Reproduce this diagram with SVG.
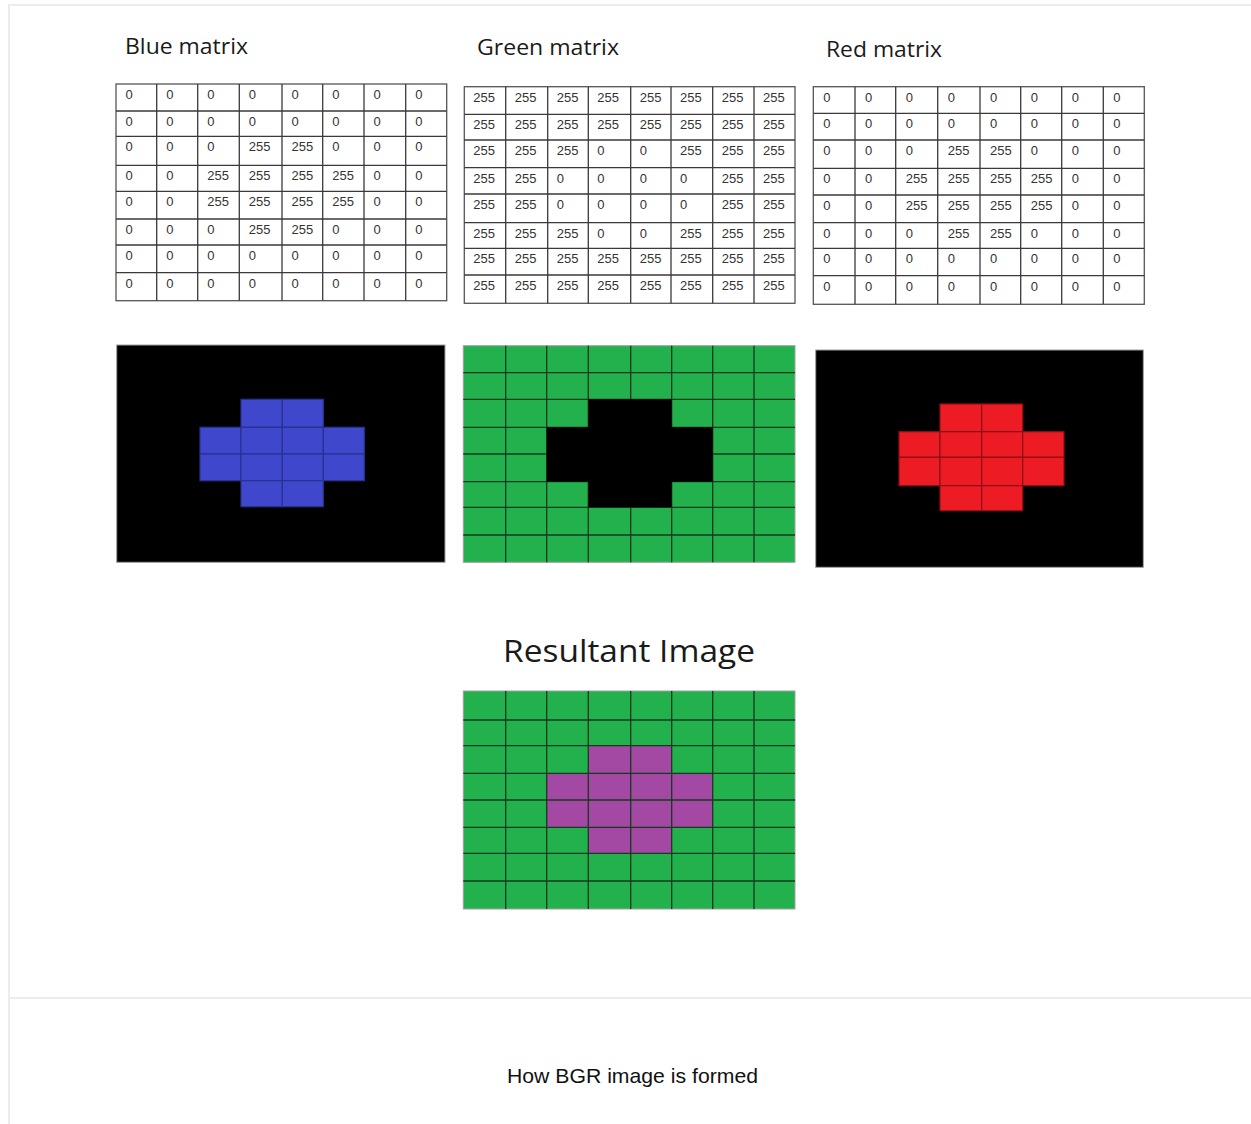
<svg xmlns="http://www.w3.org/2000/svg" width="1251" height="1124" viewBox="0 0 1251 1124">
<style>
.frame{stroke:#ececec;stroke-width:2;fill:none}
.title{font-family:"Open Sans","Liberation Sans",sans-serif;font-size:22px;fill:#1a1a1a}
.big{font-family:"Open Sans","Liberation Sans",sans-serif;font-size:31px;fill:#1a1a1a}
.num{font-family:"Liberation Sans",Arial,sans-serif;font-size:13px;fill:#333}
.grid{stroke:#3a3a3a;stroke-width:1.3;fill:none}
.outer{fill:#fff;stroke:#555;stroke-width:1.3}
.imgb{stroke:#a0a0a0;stroke-width:1}
.bc{fill:#3f48cc;stroke:#2a3190;stroke-width:1.2}
.rc{fill:#ed1c24;stroke:#8e1016;stroke-width:1.2}
.gl{stroke:#163a1e;stroke-width:1.3;fill:none}
.cap{font-family:"Liberation Sans",Arial,sans-serif;font-size:21px;fill:#111}
</style>
<rect width="1251" height="1124" fill="#fff"/>
<g id="frame">
<line class="frame" x1="8" y1="5" x2="1251" y2="5"/>
<line class="frame" x1="9" y1="4" x2="9" y2="1124"/>
<line class="frame" x1="9" y1="998" x2="1251" y2="998"/>
</g>

<g id="blue-matrix">
<text class="title" x="125" y="54" textLength="123" lengthAdjust="spacingAndGlyphs">Blue matrix</text>
<rect class="outer" x="116" y="84" width="330.7" height="216.7"/>
<path class="grid" d="M156.7 84V300.7M197.7 84V300.7M239.3 84V300.7M282 84V300.7M322.7 84V300.7M364 84V300.7M405.7 84V300.7M116 111H446.7M116 136.3H446.7M116 165.3H446.7M116 191.3H446.7M116 219H446.7M116 245H446.7M116 272.7H446.7"/>
<g class="num">
<text y="99"><tspan x="125.5">0</tspan><tspan x="166.2">0</tspan><tspan x="207.2">0</tspan><tspan x="248.8">0</tspan><tspan x="291.5">0</tspan><tspan x="332.2">0</tspan><tspan x="373.5">0</tspan><tspan x="415.2">0</tspan></text>
<text y="126"><tspan x="125.5">0</tspan><tspan x="166.2">0</tspan><tspan x="207.2">0</tspan><tspan x="248.8">0</tspan><tspan x="291.5">0</tspan><tspan x="332.2">0</tspan><tspan x="373.5">0</tspan><tspan x="415.2">0</tspan></text>
<text y="151.3"><tspan x="125.5">0</tspan><tspan x="166.2">0</tspan><tspan x="207.2">0</tspan><tspan x="248.8">255</tspan><tspan x="291.5">255</tspan><tspan x="332.2">0</tspan><tspan x="373.5">0</tspan><tspan x="415.2">0</tspan></text>
<text y="180.3"><tspan x="125.5">0</tspan><tspan x="166.2">0</tspan><tspan x="207.2">255</tspan><tspan x="248.8">255</tspan><tspan x="291.5">255</tspan><tspan x="332.2">255</tspan><tspan x="373.5">0</tspan><tspan x="415.2">0</tspan></text>
<text y="206.3"><tspan x="125.5">0</tspan><tspan x="166.2">0</tspan><tspan x="207.2">255</tspan><tspan x="248.8">255</tspan><tspan x="291.5">255</tspan><tspan x="332.2">255</tspan><tspan x="373.5">0</tspan><tspan x="415.2">0</tspan></text>
<text y="234"><tspan x="125.5">0</tspan><tspan x="166.2">0</tspan><tspan x="207.2">0</tspan><tspan x="248.8">255</tspan><tspan x="291.5">255</tspan><tspan x="332.2">0</tspan><tspan x="373.5">0</tspan><tspan x="415.2">0</tspan></text>
<text y="260"><tspan x="125.5">0</tspan><tspan x="166.2">0</tspan><tspan x="207.2">0</tspan><tspan x="248.8">0</tspan><tspan x="291.5">0</tspan><tspan x="332.2">0</tspan><tspan x="373.5">0</tspan><tspan x="415.2">0</tspan></text>
<text y="287.7"><tspan x="125.5">0</tspan><tspan x="166.2">0</tspan><tspan x="207.2">0</tspan><tspan x="248.8">0</tspan><tspan x="291.5">0</tspan><tspan x="332.2">0</tspan><tspan x="373.5">0</tspan><tspan x="415.2">0</tspan></text>
</g>
</g>

<g id="green-matrix">
<text class="title" x="477" y="55" textLength="142" lengthAdjust="spacingAndGlyphs">Green matrix</text>
<rect class="outer" x="464.3" y="86.7" width="330.7" height="216.6"/>
<path class="grid" d="M505.7 86.7V303.3M547.7 86.7V303.3M588.3 86.7V303.3M630.7 86.7V303.3M671 86.7V303.3M712.7 86.7V303.3M754 86.7V303.3M464.3 114.3H795M464.3 140H795M464.3 167.7H795M464.3 194H795M464.3 222.7H795M464.3 248.3H795M464.3 275H795"/>
<g class="num">
<text y="101.7"><tspan x="473.3">255</tspan><tspan x="514.7">255</tspan><tspan x="556.7">255</tspan><tspan x="597.3">255</tspan><tspan x="639.7">255</tspan><tspan x="680">255</tspan><tspan x="721.7">255</tspan><tspan x="763">255</tspan></text>
<text y="129.3"><tspan x="473.3">255</tspan><tspan x="514.7">255</tspan><tspan x="556.7">255</tspan><tspan x="597.3">255</tspan><tspan x="639.7">255</tspan><tspan x="680">255</tspan><tspan x="721.7">255</tspan><tspan x="763">255</tspan></text>
<text y="155"><tspan x="473.3">255</tspan><tspan x="514.7">255</tspan><tspan x="556.7">255</tspan><tspan x="597.3">0</tspan><tspan x="639.7">0</tspan><tspan x="680">255</tspan><tspan x="721.7">255</tspan><tspan x="763">255</tspan></text>
<text y="182.7"><tspan x="473.3">255</tspan><tspan x="514.7">255</tspan><tspan x="556.7">0</tspan><tspan x="597.3">0</tspan><tspan x="639.7">0</tspan><tspan x="680">0</tspan><tspan x="721.7">255</tspan><tspan x="763">255</tspan></text>
<text y="209"><tspan x="473.3">255</tspan><tspan x="514.7">255</tspan><tspan x="556.7">0</tspan><tspan x="597.3">0</tspan><tspan x="639.7">0</tspan><tspan x="680">0</tspan><tspan x="721.7">255</tspan><tspan x="763">255</tspan></text>
<text y="237.7"><tspan x="473.3">255</tspan><tspan x="514.7">255</tspan><tspan x="556.7">255</tspan><tspan x="597.3">0</tspan><tspan x="639.7">0</tspan><tspan x="680">255</tspan><tspan x="721.7">255</tspan><tspan x="763">255</tspan></text>
<text y="263.3"><tspan x="473.3">255</tspan><tspan x="514.7">255</tspan><tspan x="556.7">255</tspan><tspan x="597.3">255</tspan><tspan x="639.7">255</tspan><tspan x="680">255</tspan><tspan x="721.7">255</tspan><tspan x="763">255</tspan></text>
<text y="290"><tspan x="473.3">255</tspan><tspan x="514.7">255</tspan><tspan x="556.7">255</tspan><tspan x="597.3">255</tspan><tspan x="639.7">255</tspan><tspan x="680">255</tspan><tspan x="721.7">255</tspan><tspan x="763">255</tspan></text>
</g>
</g>

<g id="red-matrix">
<text class="title" x="826" y="57" textLength="116" lengthAdjust="spacingAndGlyphs">Red matrix</text>
<rect class="outer" x="813.3" y="86.7" width="331" height="217.6"/>
<path class="grid" d="M855 86.7V304.3M895.7 86.7V304.3M937.7 86.7V304.3M980 86.7V304.3M1020.7 86.7V304.3M1061.7 86.7V304.3M1103.3 86.7V304.3M813.3 113.3H1144.3M813.3 140H1144.3M813.3 168.3H1144.3M813.3 195H1144.3M813.3 222.7H1144.3M813.3 248.3H1144.3M813.3 275.7H1144.3"/>
<g class="num">
<text y="101.7"><tspan x="823.3">0</tspan><tspan x="865">0</tspan><tspan x="905.7">0</tspan><tspan x="947.7">0</tspan><tspan x="990">0</tspan><tspan x="1030.7">0</tspan><tspan x="1071.7">0</tspan><tspan x="1113.3">0</tspan></text>
<text y="128.3"><tspan x="823.3">0</tspan><tspan x="865">0</tspan><tspan x="905.7">0</tspan><tspan x="947.7">0</tspan><tspan x="990">0</tspan><tspan x="1030.7">0</tspan><tspan x="1071.7">0</tspan><tspan x="1113.3">0</tspan></text>
<text y="155"><tspan x="823.3">0</tspan><tspan x="865">0</tspan><tspan x="905.7">0</tspan><tspan x="947.7">255</tspan><tspan x="990">255</tspan><tspan x="1030.7">0</tspan><tspan x="1071.7">0</tspan><tspan x="1113.3">0</tspan></text>
<text y="183.3"><tspan x="823.3">0</tspan><tspan x="865">0</tspan><tspan x="905.7">255</tspan><tspan x="947.7">255</tspan><tspan x="990">255</tspan><tspan x="1030.7">255</tspan><tspan x="1071.7">0</tspan><tspan x="1113.3">0</tspan></text>
<text y="210"><tspan x="823.3">0</tspan><tspan x="865">0</tspan><tspan x="905.7">255</tspan><tspan x="947.7">255</tspan><tspan x="990">255</tspan><tspan x="1030.7">255</tspan><tspan x="1071.7">0</tspan><tspan x="1113.3">0</tspan></text>
<text y="237.7"><tspan x="823.3">0</tspan><tspan x="865">0</tspan><tspan x="905.7">0</tspan><tspan x="947.7">255</tspan><tspan x="990">255</tspan><tspan x="1030.7">0</tspan><tspan x="1071.7">0</tspan><tspan x="1113.3">0</tspan></text>
<text y="263.3"><tspan x="823.3">0</tspan><tspan x="865">0</tspan><tspan x="905.7">0</tspan><tspan x="947.7">0</tspan><tspan x="990">0</tspan><tspan x="1030.7">0</tspan><tspan x="1071.7">0</tspan><tspan x="1113.3">0</tspan></text>
<text y="290.7"><tspan x="823.3">0</tspan><tspan x="865">0</tspan><tspan x="905.7">0</tspan><tspan x="947.7">0</tspan><tspan x="990">0</tspan><tspan x="1030.7">0</tspan><tspan x="1071.7">0</tspan><tspan x="1113.3">0</tspan></text>
</g>
</g>

<g id="blue-image">
<rect class="imgb" x="116.7" y="345" width="328.3" height="217.3" fill="#000"/>
<rect class="bc" x="241" y="399.3" width="41.3" height="28"/>
<rect class="bc" x="282.3" y="399.3" width="41" height="28"/>
<rect class="bc" x="200" y="427.3" width="41" height="26.7"/>
<rect class="bc" x="241" y="427.3" width="41.3" height="26.7"/>
<rect class="bc" x="282.3" y="427.3" width="41" height="26.7"/>
<rect class="bc" x="323.3" y="427.3" width="41" height="26.7"/>
<rect class="bc" x="200" y="454" width="41" height="26.7"/>
<rect class="bc" x="241" y="454" width="41.3" height="26.7"/>
<rect class="bc" x="282.3" y="454" width="41" height="26.7"/>
<rect class="bc" x="323.3" y="454" width="41" height="26.7"/>
<rect class="bc" x="241" y="480.7" width="41.3" height="26"/>
<rect class="bc" x="282.3" y="480.7" width="41" height="26"/>
</g>

<g id="green-image">
<rect class="imgb" x="463.3" y="345.7" width="331.7" height="216.6" fill="#22b14c"/>
<path class="gl" d="M505.7 345.7V562.3M546.7 345.7V562.3M588.3 345.7V562.3M630.7 345.7V562.3M671.7 345.7V562.3M712.7 345.7V562.3M754 345.7V562.3M463.3 372.7H795M463.3 399.3H795M463.3 427.3H795M463.3 454H795M463.3 481.7H795M463.3 507.3H795M463.3 535H795"/>
<polygon fill="#000" points="588.3,399.3 671.7,399.3 671.7,427.3 712.7,427.3 712.7,481.7 671.7,481.7 671.7,507.3 588.3,507.3 588.3,481.7 546.7,481.7 546.7,427.3 588.3,427.3"/>
</g>

<g id="red-image">
<rect class="imgb" x="815.7" y="350" width="327.6" height="217.3" fill="#000"/>
<rect class="rc" x="940" y="404" width="41.7" height="27.7"/>
<rect class="rc" x="981.7" y="404" width="41" height="27.7"/>
<rect class="rc" x="899" y="431.7" width="41" height="25.6"/>
<rect class="rc" x="940" y="431.7" width="41.7" height="25.6"/>
<rect class="rc" x="981.7" y="431.7" width="41" height="25.6"/>
<rect class="rc" x="1022.7" y="431.7" width="41.3" height="25.6"/>
<rect class="rc" x="899" y="457.3" width="41" height="28.4"/>
<rect class="rc" x="940" y="457.3" width="41.7" height="28.4"/>
<rect class="rc" x="981.7" y="457.3" width="41" height="28.4"/>
<rect class="rc" x="1022.7" y="457.3" width="41.3" height="28.4"/>
<rect class="rc" x="940" y="485.7" width="41.7" height="25"/>
<rect class="rc" x="981.7" y="485.7" width="41" height="25"/>
</g>

<g id="resultant-image">
<text class="big" x="503" y="662" textLength="252" lengthAdjust="spacingAndGlyphs">Resultant Image</text>
<rect class="imgb" x="463.3" y="691" width="331.7" height="218" fill="#22b14c"/>
<polygon fill="#a349a4" points="588.3,745.7 671.7,745.7 671.7,773.3 712.7,773.3 712.7,827.3 671.7,827.3 671.7,853.3 588.3,853.3 588.3,827.3 546.7,827.3 546.7,773.3 588.3,773.3"/>
<path class="gl" d="M505.7 691V909M546.7 691V909M588.3 691V909M630.7 691V909M671.7 691V909M712.7 691V909M754 691V909M463.3 720H795M463.3 745.7H795M463.3 773.3H795M463.3 800H795M463.3 827.3H795M463.3 853.3H795M463.3 881H795"/>
</g>

<g id="caption">
<text class="cap" x="507" y="1083" textLength="251" lengthAdjust="spacingAndGlyphs">How BGR image is formed</text>
</g>
<g id="connectors"></g>
</svg>
